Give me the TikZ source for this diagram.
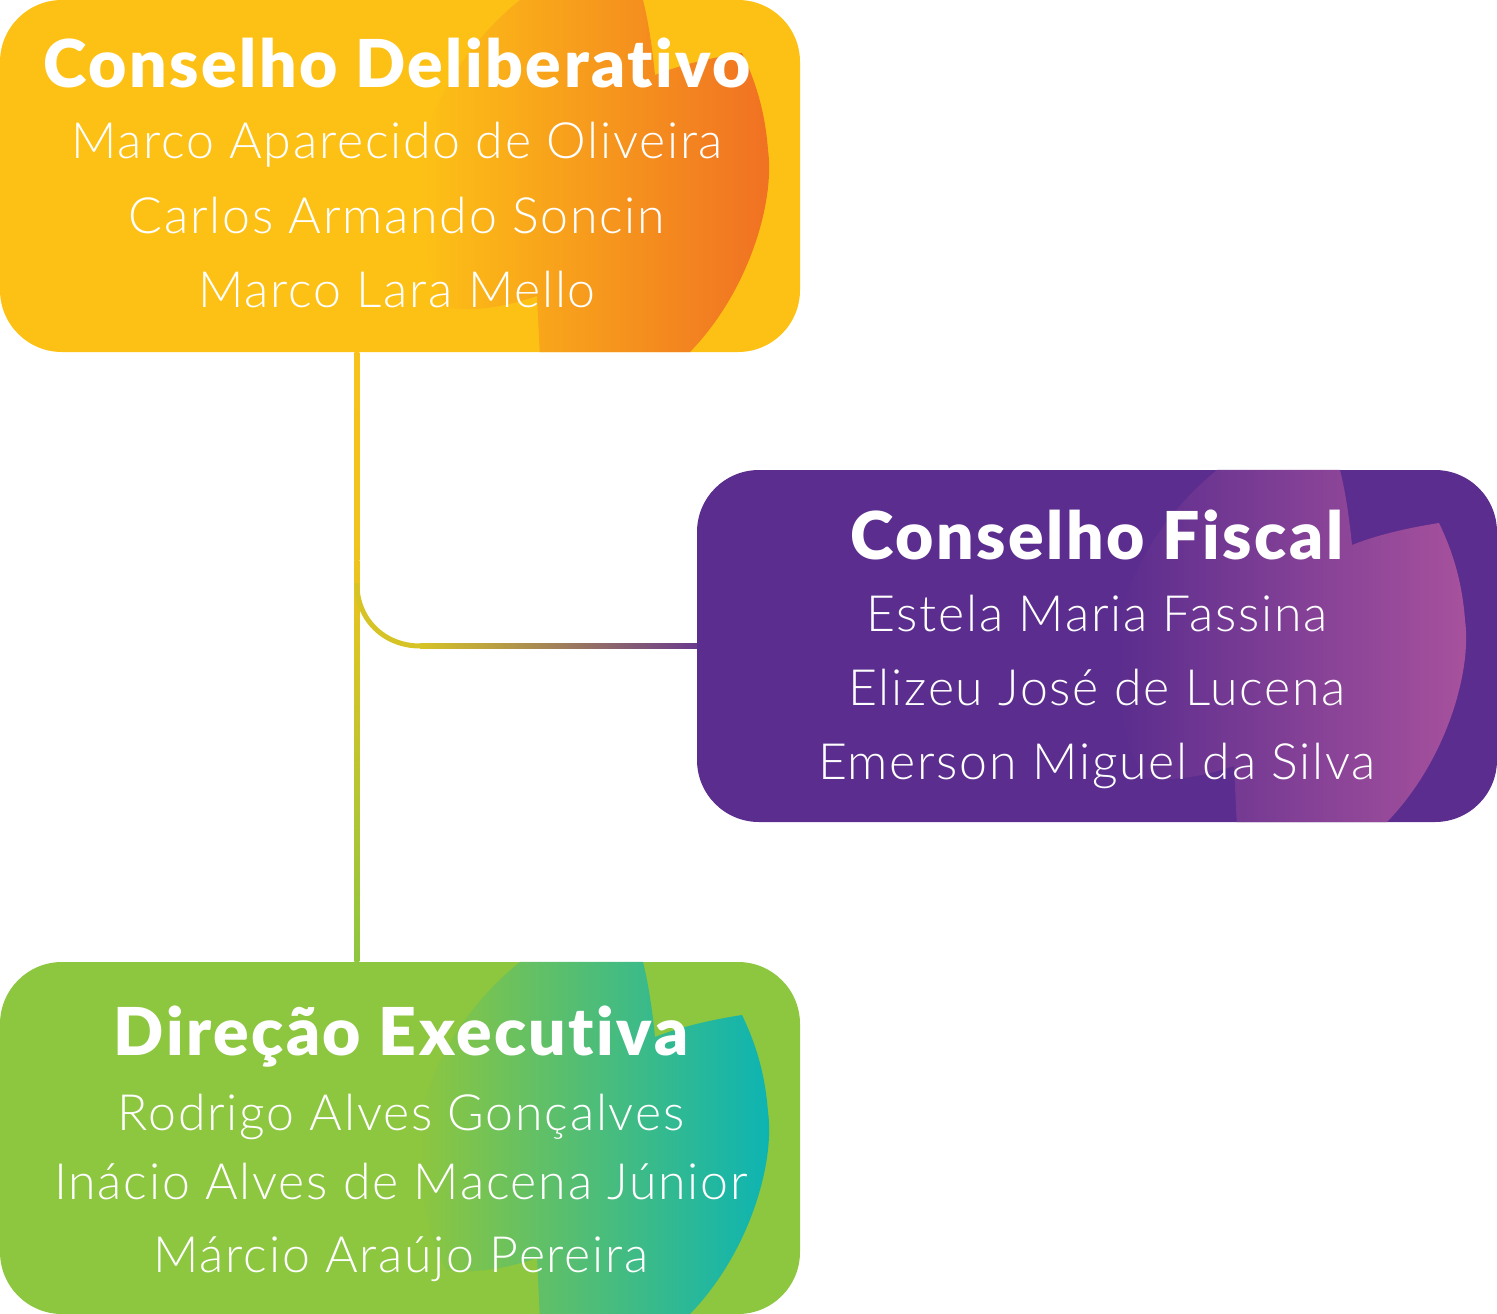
\documentclass[tikz,border=0pt]{standalone}
\usepackage{fontspec}
\usetikzlibrary{calc}
\newfontfamily\titlefont{Lato Black}[Ligatures=NoCommon, LetterSpace=3.8]
\newfontfamily\namefont{Lato Light}[Ligatures=NoCommon, LetterSpace=3.5]
\definecolor{ybase}{HTML}{FDC116}
\definecolor{yend}{HTML}{F07023}
\definecolor{pbase}{HTML}{5B2D8E}
\definecolor{pend}{HTML}{A8529D}
\definecolor{gbase}{HTML}{8DC63F}
\definecolor{gend}{HTML}{0BB4B4}
\definecolor{lineA}{HTML}{F8C21A}
\definecolor{lineB}{HTML}{EFC31D}
\definecolor{lineC}{HTML}{8DC63F}
\definecolor{lineD}{HTML}{D6C427}
\definecolor{lineE}{HTML}{6A3A8C}
\tikzset{
  box/.style={rounded corners=62pt, minimum width=800pt, minimum height=352pt, inner sep=0pt, draw=none},
  ttl/.style={text=white, font=\titlefont\fontsize{66}{70}\selectfont, anchor=base, inner sep=0pt},
  nm/.style={text=white, font=\namefont\fontsize{50}{55}\selectfont, anchor=base, inner sep=0pt},
}
\newcommand\leafshade[4]{% node, origin, base colour, end colour
  \begin{scope}
    \clip[rounded corners=62pt] (#1.north west) rectangle (#1.south east);
    \begin{scope}[shift={#2}]
      \shade[left color=#3, right color=#4] (520,-10) -- (520,0) .. controls (470,40) and (420,110) .. (420,180)
      .. controls (420,240) and (432,285) .. (447,308)
      .. controls (480,312) and (510,305) .. (537,296) -- (541,380) -- (660,380) -- (690,352)
      .. controls (750,290) and (775,200) .. (768,150)
      .. controls (765,110) and (755,80) .. (742,53)
      .. controls (710,58) and (680,65) .. (655,75)
      .. controls (652,45) and (648,20) .. (643,0) -- (643,-10) -- cycle;
    \end{scope}
  \end{scope}}
\begin{document}
\begin{tikzpicture}[x=1pt,y=-1pt]
\useasboundingbox (0,0) rectangle (1497,1314);
% boxes
\node[box, fill=ybase] (cd) at (400,176) {};
\node[box, fill=pbase] (cf) at (1097,646) {};
\node[box, fill=gbase] (de) at (400,1138) {};
\leafshade{cd}{(0,0)}{ybase}{yend}
\leafshade{cf}{(697,470)}{pbase}{pend}
\leafshade{de}{(0,962)}{gbase}{gend}
% connectors
\coordinate (jtop) at ($(cd.south west)+(357,0)$);
\coordinate (jmid) at ($(cd.south west)+(357,208)$);
\coordinate (jcurve) at ($(cd.south west)+(357,231)$);
\coordinate (jbot) at ($(de.north west)+(357,0)$);
\coordinate (hstart) at ($(cf.west)+(-277,0)$);
\shade[top color=lineA, bottom color=lineB] ($(jtop)+(-2.5,0)$) rectangle ($(jmid)+(2.5,0)$);
\shade[top color=lineB, bottom color=lineC] ($(jmid)+(-2.5,0)$) rectangle ($(jbot)+(2.5,0)$);
\draw[line width=5pt, lineD] (jcurve) .. controls ($(jcurve)+(0,36)$) and ($(hstart)+(-36,0)$) .. ($(hstart)+(0.5,0)$);
\shade[left color=lineD, right color=lineE] ($(hstart)+(0,-2.5)$) rectangle ($(cf.west)+(0,2.5)$);
% texts
\node[ttl] (cdt) at (397,88) {Conselho Deliberativo};
\node[nm] (cd1) at (397,158) {Marco Aparecido de Oliveira};
\node[nm] (cd2) at (397,233) {Carlos Armando Soncin};
\node[nm] (cd3) at (397,307) {Marco Lara Mello};
\node[ttl] (cft) at (1097,559) {Conselho Fiscal};
\node[nm] (cf1) at (1097,631) {Estela Maria Fassina};
\node[nm] (cf2) at (1097,705) {Elizeu José de Lucena};
\node[nm] (cf3) at (1097,779) {Emerson Miguel da Silva};
\node[ttl] (det) at (401,1055) {Direção Executiva};
\node[nm] (de1) at (401,1130) {Rodrigo Alves Gonçalves};
\node[nm] (de2) at (401,1199) {Inácio Alves de Macena Júnior};
\node[nm] (de3) at (401,1272) {Márcio Araújo Pereira};
\end{tikzpicture}
\end{document}
